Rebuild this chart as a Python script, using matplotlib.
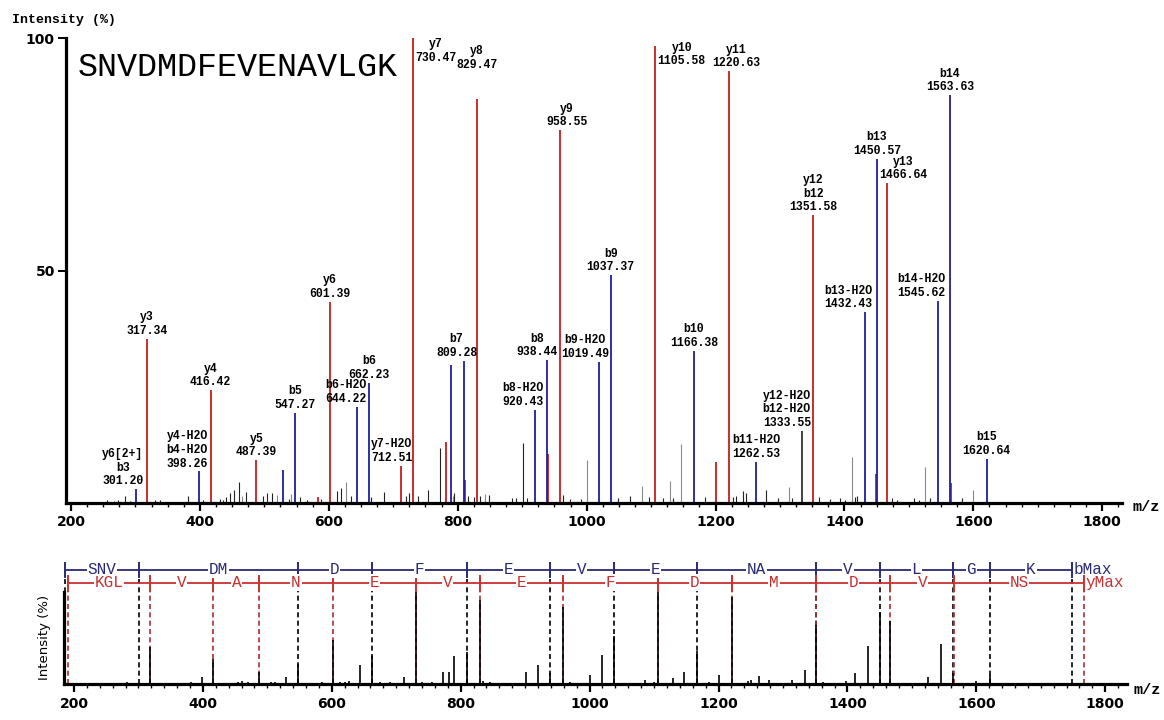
import matplotlib
matplotlib.use('Agg')
import matplotlib.pyplot as plt
from matplotlib.ticker import MultipleLocator

# ---- top spectrum: annotated fragment peaks (m/z, intensity %) ----
ann_mz = [301.20, 317.34, 398.26, 416.42, 487.39, 547.27, 601.39, 644.22, 662.23, 712.51,
          730.47, 809.28, 829.47, 920.43, 938.44, 958.55, 1019.49, 1037.37, 1105.58, 1166.38,
          1220.63, 1262.53, 1333.55, 1351.58, 1432.43, 1450.57, 1466.64, 1545.62, 1563.63, 1620.64]
ann_int = [3.0, 35.3, 6.8, 24.3, 9.2, 19.4, 43.3, 20.7, 25.9, 8.0,
           100.0, 30.6, 86.9, 20.1, 30.7, 80.2, 30.4, 49.0, 98.3, 32.7,
           92.9, 8.9, 15.5, 61.9, 41.0, 74.0, 68.8, 43.5, 87.7, 9.5]
ann_ion = ['y6[2+]\nb3', 'y3', 'y4-H2O\nb4-H2O', 'y4', 'y5', 'b5', 'y6', 'b6-H2O', 'b6', 'y7-H2O',
           'y7', 'b7', 'y8', 'b8-H2O', 'b8', 'y9', 'b9-H2O', 'b9', 'y10', 'b10',
           'y11', 'b11-H2O', 'y12-H2O\nb12-H2O', 'y12\nb12', 'b13-H2O', 'b13', 'y13', 'b14-H2O', 'b14', 'b15']
ann_kind = ['b', 'y', 'b', 'y', 'y', 'b', 'y', 'b', 'b', 'y',
            'y', 'b', 'y', 'b', 'b', 'y', 'b', 'b', 'y', 'b',
            'y', 'b', 'n', 'y', 'b', 'b', 'y', 'b', 'b', 'b']

# unlabelled matched peaks
red_mz = [583.2, 781.8, 811.3, 939.6, 1200.8, 1448.5, 1565.0]
red_int = [1.3, 13.1, 4.9, 10.6, 8.9, 6.3, 4.2]
blue_mz = [529.4, 789.1]
blue_int = [7.1, 29.7]

# unmatched peaks
dark_mz = [256, 266, 273, 284, 292, 331, 338, 381, 404, 431, 436, 441, 447, 453, 461, 472, 498, 504,
           512, 538, 555, 566, 588, 612, 619, 634, 666, 686, 720, 725, 739, 754, 772.5, 795, 816.5,
           826, 834.6, 849, 884, 891, 901.8, 907, 963.9, 974, 992, 1049, 1067, 1097, 1119, 1134.6,
           1183.7, 1227.6, 1232, 1243.1, 1248, 1278.4, 1297.5, 1318, 1361, 1377.6, 1393, 1401, 1416,
           1419.5, 1474, 1482, 1508.5, 1515.8, 1532.8, 1582]
dark_int = [0.6, 0.5, 0.7, 1.5, 0.5, 0.7, 0.6, 1.5, 0.6, 0.9, 0.7, 1.3, 2.2, 2.9, 4.5, 2.3, 1.4, 2.2,
            2.2, 0.9, 1.3, 0.7, 0.8, 2.6, 3.2, 1.5, 1.2, 2.4, 1.6, 2.2, 1.5, 2.9, 11.8, 2.2, 1.5,
            1.2, 1.5, 1.8, 1.0, 1.0, 12.9, 1.0, 1.8, 0.8, 0.8, 1.0, 1.5, 1.2, 1.0, 1.0,
            1.2, 1.2, 1.5, 2.5, 2.2, 2.9, 1.0, 1.0, 1.3, 0.9, 1.0, 0.7, 1.2,
            1.5, 1.0, 0.6, 1.0, 0.6, 1.0, 1.0]
gray_mz = [465, 520, 542, 626.7, 793, 843, 1001.1, 1086.4, 1129.4, 1146, 1314, 1412.2, 1525.5, 1600]
gray_int = [1.5, 1.8, 2.0, 4.6, 1.5, 2.0, 9.2, 3.7, 4.7, 12.7, 3.5, 9.9, 7.8, 2.8]

# label nudges (m/z units) and label base overrides (%)
label_dx = {'y6[2+]\nb3': -21, 'y4-H2O\nb4-H2O': -18, 'b6-H2O': -17, 'y7-H2O': -15, 'y7': 35,
            'b7': -11, 'b8-H2O': -19, 'b8': -16, 'y9': 11, 'b9-H2O': -22, 'y10': 42, 'y11': 12,
            'y12-H2O\nb12-H2O': -23, 'b13-H2O': -27, 'y13': 25, 'b14-H2O': -26}
label_top = {'y7': 100.0, 'y10': 99.2}
label_base = {'y8': 92.9}

# ---- bottom spectrum ----
low_mz = [282, 317.34, 382, 398.26, 416.42, 455, 461, 470, 487.39, 505, 512, 529.4, 547.27, 563,
          585, 601.39, 612, 620, 627, 644.22, 662.23, 675, 690, 712.51, 730.47, 740, 755, 772.5,
          781.8, 789.1, 809.28, 829.47, 835, 845, 901.8, 920.43, 938.44, 958.55, 970, 1001.1,
          1019.49, 1037.37, 1086.4, 1100, 1105.58, 1129.4, 1146, 1166.38, 1185, 1200.8, 1220.63,
          1245, 1250, 1262.53, 1278.4, 1314, 1333.55, 1351.58, 1362, 1398, 1412.2, 1432.43,
          1450.57, 1466.64, 1525.5, 1545.62, 1563.63, 1600, 1620.64]
low_int = [0.025, 0.40, 0.02, 0.08, 0.27, 0.02, 0.03, 0.02, 0.13, 0.02, 0.02, 0.08, 0.22, 0.01,
           0.02, 0.48, 0.02, 0.02, 0.03, 0.21, 0.30, 0.02, 0.02, 0.08, 1.0, 0.02, 0.02, 0.13,
           0.13, 0.30, 0.35, 0.91, 0.03, 0.02, 0.13, 0.21, 0.12, 0.84, 0.02, 0.10,
           0.31, 0.52, 0.04, 0.02, 1.0, 0.06, 0.13, 0.36, 0.02, 0.10, 0.95,
           0.03, 0.04, 0.09, 0.04, 0.04, 0.15, 0.64, 0.02, 0.03, 0.12, 0.41,
           0.78, 0.69, 0.08, 0.44, 0.12, 0.03, 0.10]

b_bounds = [186.5, 301.20, 547.27, 662.23, 809.28, 938.44, 1037.37, 1166.38, 1351.58, 1450.57,
            1563.63, 1620.64, 1748.73]
b_res = ['SNV', 'DM', 'D', 'F', 'E', 'V', 'E', 'NA', 'V', 'L', 'G', 'K']
y_bounds = [190.5, 317.34, 416.42, 487.39, 601.39, 730.47, 829.47, 958.55, 1105.58, 1220.63,
            1351.58, 1466.64, 1565.71, 1766.78]
y_res = ['KGL', 'V', 'A', 'N', 'E', 'V', 'E', 'F', 'D', 'M', 'D', 'V', 'NS']

peptide = 'SNVDMDFEVENAVLGK'

RED = '#c41e1e'
BLUE = '#1f1fa0'
NAVY = '#2a2a72'
LRED = '#c83030'
MONO = 'Liberation Mono'

W, H = 1164, 720
fig = plt.figure(figsize=(W / 100, H / 100), dpi=100)

# ---------- top panel ----------
ax = fig.add_axes([66 / W, (H - 503) / H, (1122 - 66) / W, (503 - 38) / H])
ax.set_xlim(192.2, 1830.7)
ax.set_ylim(0, 100)

ax.vlines(gray_mz, 0, gray_int, colors='#8a8a8a', lw=0.8)
ax.vlines(dark_mz, 0, dark_int, colors='#222222', lw=0.8)
ax.vlines(red_mz, 0, red_int, colors=RED, lw=1.3)
ax.vlines(blue_mz, 0, blue_int, colors=BLUE, lw=1.3)

col = {'b': BLUE, 'y': RED, 'n': '#333333'}
for mz, h, ion, k in zip(ann_mz, ann_int, ann_ion, ann_kind):
    ax.vlines(mz, 0, h, colors=col[k], lw=1.3)
    txt = ion + '\n%.2f' % mz
    x = mz + label_dx.get(ion, 0)
    if ion in label_top:
        ax.text(x, label_top[ion], txt, ha='center', va='top', family=MONO,
                fontweight='bold', fontsize=8.3, linespacing=1.18, clip_on=False)
    else:
        ax.text(x, label_base.get(ion, h + 0.4), txt, ha='center', va='bottom', family=MONO,
                fontweight='bold', fontsize=8.3, linespacing=1.18)

for s in ['top', 'right']:
    ax.spines[s].set_visible(False)
for s in ['left', 'bottom']:
    ax.spines[s].set_linewidth(2.3)
ax.xaxis.set_major_locator(MultipleLocator(200))
ax.xaxis.set_minor_locator(MultipleLocator(25))
ax.set_yticks([50, 100])
ax.tick_params(axis='x', which='major', direction='out', length=6, width=1.6, pad=3)
ax.tick_params(axis='x', which='minor', direction='out', length=3, width=1.0)
ax.tick_params(axis='y', direction='out', length=6, width=1.4, pad=2)
for lab in ax.get_xticklabels() + ax.get_yticklabels():
    lab.set_fontweight('bold')
    lab.set_fontsize(10)

fig.text(12 / W, 1 - 20 / H, 'Intensity (%)', family=MONO, fontweight='bold', fontsize=9.5,
         ha='left', va='center')
fig.text(78 / W, 1 - 68 / H, peptide, family=MONO, fontsize=24, ha='left', va='center')
fig.text(1146 / W, 1 - 507 / H, 'm/z', family=MONO, fontweight='bold', fontsize=11,
         ha='center', va='center')

# ---------- bottom panel ----------
bx = fig.add_axes([64 / W, (H - 684) / H, (1127 - 64) / W, 129 / H])
bx.set_xlim(184.5, 1833.8)
bx.set_ylim(0, 1.402)

yb, yr = 1.24, 1.10
bx.vlines(b_bounds, 0, 1.15, colors='black', lw=1.2, linestyles=(0, (3, 2)))
bx.vlines(y_bounds, 0, 1.0, colors='#a83030', lw=1.2, linestyles=(0, (3, 2)))
bx.vlines(low_mz, 0, low_int, colors='black', lw=1.2)

bx.hlines(yb, b_bounds[0], b_bounds[-1], colors=NAVY, lw=1.3)
bx.vlines(b_bounds, 1.15, 1.33, colors=NAVY, lw=1.4)
bx.hlines(yr, y_bounds[0], y_bounds[-1], colors=LRED, lw=1.3)
bx.vlines(y_bounds, 1.0, 1.18, colors=LRED, lw=1.4)
for i, r in enumerate(b_res):
    bx.text((b_bounds[i] + b_bounds[i + 1]) / 2, yb, r, ha='center', va='center', color=NAVY,
            family=MONO, fontsize=11.5, bbox=dict(facecolor='white', edgecolor='none', pad=0.6))
for i, r in enumerate(y_res):
    bx.text((y_bounds[i] + y_bounds[i + 1]) / 2, yr, r, ha='center', va='center', color=LRED,
            family=MONO, fontsize=11.5, bbox=dict(facecolor='white', edgecolor='none', pad=0.6))
bx.text(b_bounds[-1] + 2, yb, 'bMax', ha='left', va='center', color=NAVY, family=MONO, fontsize=11.5)
bx.text(y_bounds[-1] + 2, yr, 'yMax', ha='left', va='center', color=LRED, family=MONO, fontsize=11.5)

for s in ['top', 'right']:
    bx.spines[s].set_visible(False)
for s in ['left', 'bottom']:
    bx.spines[s].set_linewidth(2.3)
bx.spines['left'].set_bounds(0, 1.0)
bx.set_yticks([])
bx.xaxis.set_major_locator(MultipleLocator(200))
bx.xaxis.set_minor_locator(MultipleLocator(20))
bx.tick_params(axis='x', which='major', direction='out', length=6, width=1.6, pad=3)
bx.tick_params(axis='x', which='minor', direction='out', length=3, width=1.0)
for lab in bx.get_xticklabels():
    lab.set_fontweight('bold')
    lab.set_fontsize(10)
bx.set_ylabel('Intensity (%)', fontsize=9.5, labelpad=2)
bx.yaxis.set_label_coords(-0.012, 0.36)
fig.text(1147 / W, 1 - 690 / H, 'm/z', family=MONO, fontweight='bold', fontsize=11,
         ha='center', va='center')

fig.savefig('out.png', dpi=100, facecolor='white')
